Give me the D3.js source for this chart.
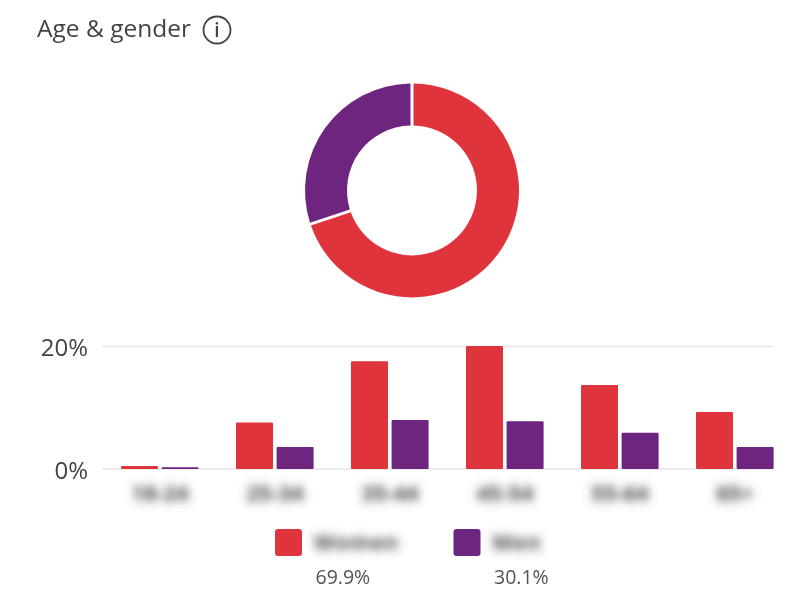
<!DOCTYPE html>
<html>
<head>
<meta charset="utf-8">
<script src="https://cdn.jsdelivr.net/npm/d3@7"></script>
<style>
  body { margin: 0; background: #fff; }
  text { font-family: "Open Sans", sans-serif; }
  #chart { filter: blur(0.5px); }
</style>
</head>
<body>
<svg id="chart" width="804" height="600"></svg>
<script>
const ageGroups = ["18-24", "25-34", "35-44", "45-54", "55-64", "65+"];
const womenValues = [0.5, 7.6, 17.6, 20.1, 13.7, 9.3];
const menValues = [0.3, 3.6, 8.0, 7.8, 5.9, 3.6];
const genders = ["Women", "Men"];
const genderShares = [69.9, 30.1];
const genderColors = ["#e0343c", "#6e2580"];
const yTicks = [0, 20];

const svg = d3.select("#chart");

// labels are blurred in the original, two passes so the glyphs do not ghost
const defs = svg.append("defs");
const blur = defs.append("filter").attr("id", "blur")
  .attr("x", "-30%").attr("y", "-80%").attr("width", "160%").attr("height", "260%");
blur.append("feGaussianBlur").attr("stdDeviation", 3.6);
blur.append("feGaussianBlur").attr("stdDeviation", 3.1);

// title
svg.append("text")
  .attr("x", 37).attr("y", 37)
  .attr("font-size", 24.5).attr("fill", "#3f4448")
  .text("Age & gender");
const info = svg.append("g").attr("transform", "translate(217,30)");
info.append("circle").attr("r", 13.5).attr("fill", "none").attr("stroke", "#3f4448").attr("stroke-width", 1.8);
info.append("text").attr("text-anchor", "middle").attr("y", 7)
  .attr("font-size", 19).attr("font-weight", 600).attr("fill", "#3f4448").text("i");

// donut
const pie = d3.pie().sort(null).value(d => d);
const arc = d3.arc().innerRadius(65).outerRadius(107).padAngle(0.024);
svg.append("g")
  .attr("transform", "translate(412,190.4)")
  .selectAll("path")
  .data(pie(genderShares))
  .join("path")
  .attr("fill", (d, i) => genderColors[i])
  .attr("d", arc);

// bars
const x = d3.scaleBand().domain(ageGroups).range([102, 792]);
const y = d3.scaleLinear().domain([0, 20]).range([469, 346.5]);
const barW = 37;

const grid = svg.append("g");
grid.selectAll("line")
  .data(yTicks)
  .join("line")
  .attr("x1", 102).attr("x2", 773)
  .attr("y1", d => y(d)).attr("y2", d => y(d))
  .attr("stroke", "#e6e6e6").attr("stroke-width", 1.5);
grid.selectAll("text")
  .data(yTicks)
  .join("text")
  .attr("x", 88).attr("y", d => y(d) + 9.5)
  .attr("text-anchor", "end")
  .attr("font-size", 24).attr("fill", "#3f4448")
  .text(d => d + "%");

function drawBars(values, color, offset) {
  svg.append("g")
    .selectAll("rect")
    .data(values)
    .join("rect")
    .attr("x", (d, i) => x(ageGroups[i]) + offset)
    .attr("y", d => y(d))
    .attr("width", barW)
    .attr("height", d => y(0) - y(d))
    .attr("rx", 1)
    .attr("fill", color);
}
drawBars(womenValues, genderColors[0], 19);
drawBars(menValues, genderColors[1], 59.6);

// age labels
svg.append("g")
  .selectAll("text")
  .data(ageGroups)
  .join("text")
  .attr("filter", "url(#blur)")
  .attr("x", d => x(d) + 58)
  .attr("y", 501)
  .attr("text-anchor", "middle")
  .attr("font-size", 22).attr("font-weight", 700).attr("fill", "#444")
  .text(d => d);

// legend
const legendX = [275, 453.5];
const legend = svg.append("g")
  .selectAll("g")
  .data(genders)
  .join("g")
  .attr("transform", (d, i) => `translate(${legendX[i]},529)`);
legend.append("rect")
  .attr("width", 27).attr("height", 27).attr("rx", 3)
  .attr("fill", (d, i) => genderColors[i]);
legend.append("text")
  .attr("x", 39).attr("y", 21)
  .attr("font-size", 21).attr("font-weight", 700).attr("fill", "#444")
  .attr("letter-spacing", 1)
  .attr("filter", "url(#blur)")
  .text(d => d);
legend.append("text")
  .attr("x", 40.5).attr("y", 55)
  .attr("font-size", 19.5).attr("fill", "#50555a")
  .text((d, i) => genderShares[i] + "%");
</script>
</body>
</html>
